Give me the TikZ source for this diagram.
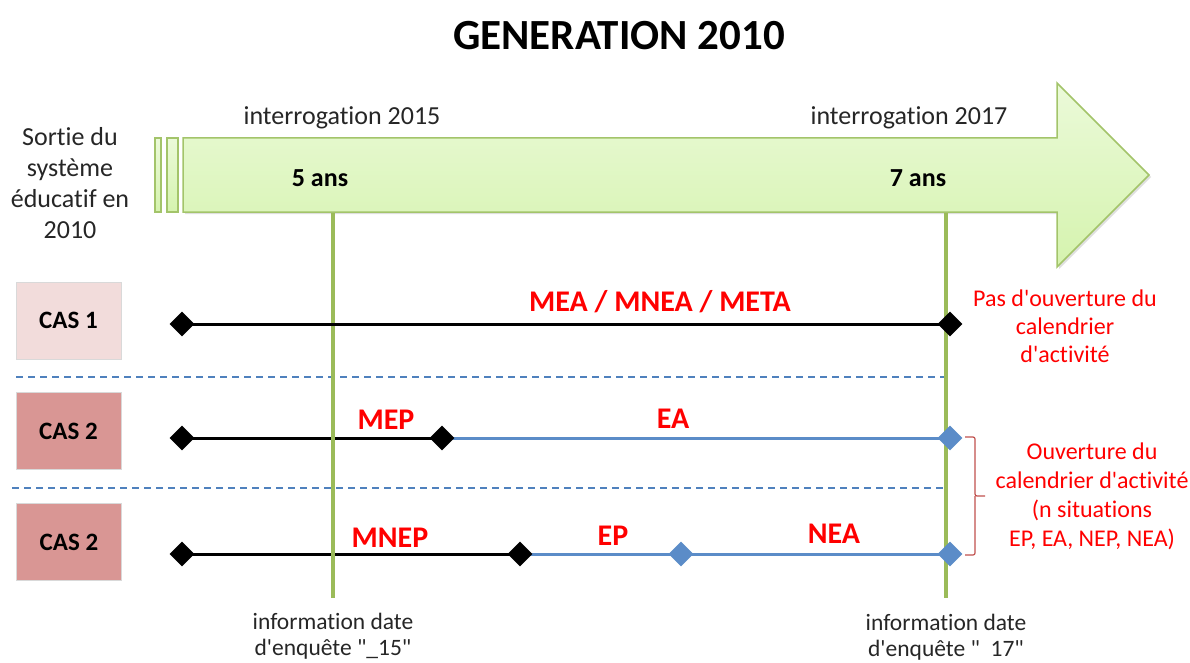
\documentclass[tikz,border=0pt]{standalone}
\usepackage{fontspec}
\setmainfont{Carlito}[Ligatures={TeXOff, NoCommon}]
\usetikzlibrary{shapes.geometric, backgrounds, shadows}

\definecolor{arrowfill}{HTML}{EBFAD9}
\definecolor{arrowfillb}{HTML}{D5F3AE}
\definecolor{arrowline}{HTML}{A3C46A}
\definecolor{vgreen}{HTML}{9BBB59}
\definecolor{casone}{HTML}{F2DCDB}
\definecolor{castwo}{HTML}{D99694}
\definecolor{sepblue}{HTML}{4F81BD}
\definecolor{segblue}{HTML}{5B8CC8}
\definecolor{bracered}{HTML}{C0504D}
\definecolor{txtgray}{HTML}{262626}

\tikzset{
  caslabel/.style={draw=black!15, line width=1pt, minimum width=105pt, minimum height=77pt,
    font=\fontsize{25}{28}\selectfont\bfseries, text=black},
  dm/.style={diamond, fill=black, inner sep=0pt, minimum width=25pt, minimum height=25pt},
  dmblue/.style={dm, fill=segblue},
  seg/.style={line width=3pt, black},
  segb/.style={line width=3pt, segblue},
  redlbl/.style={font=\fontsize{30}{34}\selectfont\bfseries, text=red},
  rednote/.style={font=\fontsize{24}{28}\selectfont, text=red, align=center},
  plain/.style={font=\fontsize{26}{31}\selectfont, text=txtgray, align=center},
  infolbl/.style={plain, font=\fontsize{23.5}{26}\selectfont},
  vline/.style={line width=4.5pt, vgreen},
  sep/.style={sepblue, line width=1.2pt, dash pattern=on 7pt off 5pt}
}

\begin{document}
\begin{tikzpicture}[x=1pt, y=-1pt]
  \useasboundingbox (0,0) rectangle (1190,663);

  % title
  \node[font=\fontsize{43}{48}\selectfont\bfseries, text=black] (title) at (619,36) {GENERATION 2010};

  % big arrow
  \draw[arrowline, line width=1.5pt, top color=arrowfill, bottom color=arrowfillb,
        drop shadow={shadow xshift=2pt, shadow yshift=-2pt, opacity=0.25}]
    (183,138) -- (1057,138) -- (1057,83) -- (1149,175) -- (1057,267) -- (1057,212) -- (183,212) -- cycle;
  \draw[arrowline, line width=1.5pt, top color=arrowfill, bottom color=arrowfillb] (155,138) rectangle (161,212);
  \draw[arrowline, line width=1.5pt, top color=arrowfill, bottom color=arrowfillb] (167,138) rectangle (178,212);

  \node[plain] (sortie) at (70,183) {Sortie du\\système\\éducatif en\\2010};
  \node[plain] (int15) at (342,118) {interrogation 2015};
  \node[plain] (int17) at (909,118) {interrogation 2017};
  \node[font=\fontsize{26}{30}\selectfont\bfseries] (ans5) at (320,178) {5 ans};
  \node[font=\fontsize{26}{30}\selectfont\bfseries] (ans7) at (918,178) {7 ans};

  % survey dates
  \coordinate (t15) at (333,213);
  \coordinate (b15) at (333,598);
  \coordinate (t17) at (946,213);
  \coordinate (b17) at (946,598);
  \draw[vline] (t15) -- (b15);
  \draw[vline] (t17) -- (b17);
  \node[infolbl] (info15) at (333,636) {information date\\d'enquête "\_15"};
  \node[infolbl] (info17) at (946,637) {information date\\d'enquête "\ \ 17"};

  % separators
  \coordinate (s1a) at (16,377);
  \coordinate (s1b) at (944,377);
  \coordinate (s2a) at (12,488);
  \coordinate (s2b) at (944,488);
  \begin{scope}[on background layer]
    \draw[sep] (s1a) -- (s1b);
    \draw[sep] (s2a) -- (s2b);
  \end{scope}

  % cases
  \node[caslabel, fill=casone] (cas1) at (68.5,320.5) {CAS 1};
  \node[caslabel, fill=castwo] (cas2) at (68.5,431) {CAS 2};
  \node[caslabel, fill=castwo] (cas3) at (69,542) {CAS 2};

  % row 1
  \node[dm] (r1a) at (182,324) {};
  \node[dm] (r1b) at (950,324) {};
  \draw[seg] (r1a.center) -- (r1b.center);
  \node[redlbl] (mea) at (660,302) {MEA / MNEA / META};

  % row 2
  \node[dm] (r2a) at (182,438) {};
  \node[dm] (r2b) at (442,438) {};
  \node[dmblue] (r2c) at (950,438) {};
  \begin{scope}[on background layer]
    \draw[seg] (r2a.center) -- (r2b.center);
    \draw[segb] (r2b.center) -- (r2c.center);
  \end{scope}
  \node[redlbl] (mep) at (386,420) {MEP};
  \node[redlbl] (ea) at (673,419) {EA};

  % row 3
  \node[dm] (r3a) at (182,554) {};
  \node[dm] (r3b) at (520,554) {};
  \node[dmblue] (r3c) at (681,554) {};
  \node[dmblue] (r3d) at (950,554) {};
  \begin{scope}[on background layer]
    \draw[seg] (r3a.center) -- (r3b.center);
    \draw[segb] (r3b.center) -- (r3d.center);
  \end{scope}
  \node[redlbl] (mnep) at (390,538) {MNEP};
  \node[redlbl] (ep) at (613,536) {EP};
  \node[redlbl] (nea) at (834,534) {NEA};

  % notes
  \node[rednote] (pas) at (1065,326) {Pas d'ouverture du\\calendrier\\d'activité};
  \node[rednote, font=\fontsize{24}{29}\selectfont] (ouv) at (1092,496) {Ouverture du\\calendrier d'activité\\(n situations\\EP, EA, NEP, NEA)};
  \coordinate (brtop) at (965,437);
  \coordinate (brbot) at (965,555);
  \coordinate (brtip) at (985,496);
  \draw[bracered, line width=1.2pt, rounded corners=2pt]
    (brtop) -- (975,437) -- (975,496) -- (brtip) (975,496) -- (975,555) -- (brbot);
\end{tikzpicture}
\end{document}
